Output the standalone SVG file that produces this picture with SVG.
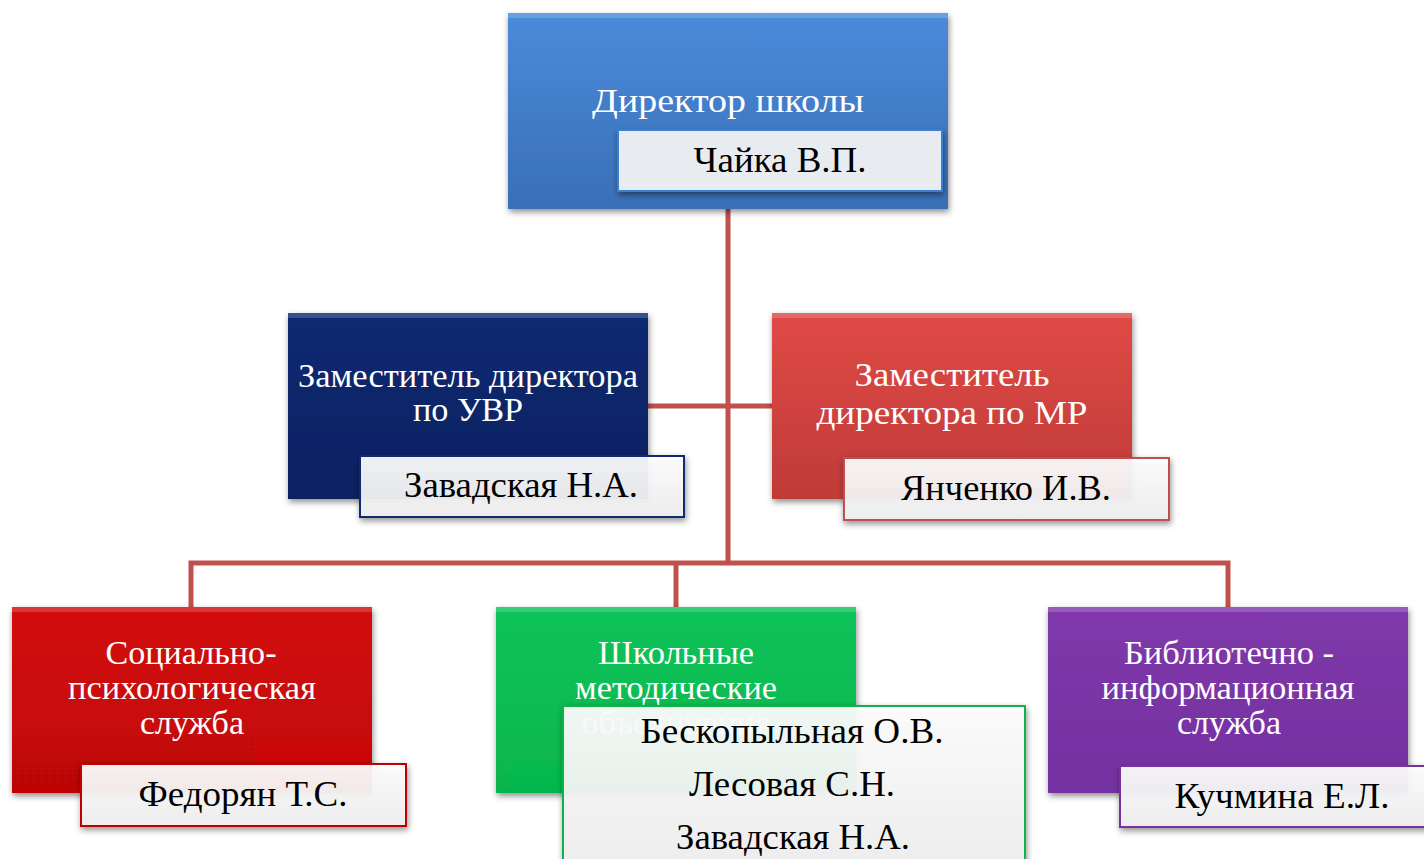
<svg xmlns="http://www.w3.org/2000/svg" width="1424" height="859" viewBox="0 0 1424 859">
<defs>
<filter id="sh" x="-10%" y="-10%" width="120%" height="130%">
<feDropShadow dx="1" dy="3" stdDeviation="3" flood-color="#000" flood-opacity="0.45"/>
</filter>
<linearGradient id="gTop" x1="0" y1="0" x2="0" y2="1"><stop offset="0" stop-color="#4a8bdb"/><stop offset="1" stop-color="#3a6fb6"/></linearGradient>
<linearGradient id="gNavy" x1="0" y1="0" x2="0" y2="1"><stop offset="0" stop-color="#0b2a72"/><stop offset="1" stop-color="#072161"/></linearGradient>
<linearGradient id="gRed1" x1="0" y1="0" x2="0" y2="1"><stop offset="0" stop-color="#e04a46"/><stop offset="1" stop-color="#bf3b38"/></linearGradient>
<linearGradient id="gRed2" x1="0" y1="0" x2="0" y2="1"><stop offset="0" stop-color="#d20909"/><stop offset="1" stop-color="#c10606"/></linearGradient>
<linearGradient id="gGreen" x1="0" y1="0" x2="0" y2="1"><stop offset="0" stop-color="#0cc35a"/><stop offset="1" stop-color="#06b64c"/></linearGradient>
<linearGradient id="gPurple" x1="0" y1="0" x2="0" y2="1"><stop offset="0" stop-color="#8039aa"/><stop offset="1" stop-color="#7430a0"/></linearGradient>
<linearGradient id="gLab" x1="0" y1="0" x2="0" y2="1"><stop offset="0" stop-color="#ffffff" stop-opacity="0.92"/><stop offset="1" stop-color="#f0f0f0" stop-opacity="0.92"/></linearGradient>
</defs>
<style>
.box{filter:url(#sh)}
.bev{fill:#ffffff;opacity:0.18}
.ttl{font-family:"Liberation Serif","Times New Roman",serif;font-size:34px;fill:#ffffff;text-anchor:middle}
.nm{font-family:"Liberation Serif","Times New Roman",serif;font-size:36px;fill:#000000;text-anchor:middle}
.lab{fill:url(#gLab);stroke-width:2;filter:url(#sh)}
.con{stroke:#c0504d;stroke-width:5;fill:none}
</style>
<rect width="1424" height="859" fill="#ffffff"/>

<g id="connectors">
<path class="con" d="M728,209 V563"/>
<path class="con" d="M648,406 H772"/>
<path class="con" d="M191,607 V563 H1228 V607"/>
<path class="con" d="M676,563 V607"/>
</g>

<g id="director">
<rect class="box" x="508" y="13" width="440" height="196" fill="url(#gTop)"/>
<rect class="bev" x="508" y="13" width="440" height="5"/>
<text class="ttl" x="728" y="112" font-size="36" textLength="272" lengthAdjust="spacingAndGlyphs">Директор школы</text>
<rect x="618" y="130" width="324" height="61" fill="#e8ebf0" stroke="#3a7fd0" stroke-width="2" filter="url(#sh)"/>
<text class="nm" x="780" y="172" textLength="173" lengthAdjust="spacingAndGlyphs">Чайка В.П.</text>
</g>

<g id="deputy-uvr">
<rect class="box" x="288" y="313" width="360" height="186" fill="url(#gNavy)"/>
<rect class="bev" x="288" y="313" width="360" height="5"/>
<text class="ttl" x="468" y="387" font-size="36" textLength="340" lengthAdjust="spacingAndGlyphs">Заместитель директора</text>
<text class="ttl" x="468" y="421" font-size="36" textLength="110" lengthAdjust="spacingAndGlyphs">по УВР</text>
<rect class="lab" x="360" y="456" width="324" height="61" stroke="#0b2a72"/>
<text class="nm" x="521" y="497" font-size="37" textLength="234" lengthAdjust="spacingAndGlyphs">Завадская Н.А.</text>
</g>

<g id="deputy-mr">
<rect class="box" x="772" y="313" width="360" height="186" fill="url(#gRed1)"/>
<rect class="bev" x="772" y="313" width="360" height="5"/>
<text class="ttl" x="952" y="386" font-size="36" textLength="195" lengthAdjust="spacingAndGlyphs">Заместитель</text>
<text class="ttl" x="952" y="424" font-size="36" textLength="271" lengthAdjust="spacingAndGlyphs">директора по МР</text>
<rect class="lab" x="844" y="458" width="325" height="62" stroke="#c0504d"/>
<text class="nm" x="1006" y="500" font-size="37" textLength="210" lengthAdjust="spacingAndGlyphs">Янченко И.В.</text>
</g>

<g id="social">
<rect class="box" x="12" y="607" width="360" height="186" fill="url(#gRed2)"/>
<rect class="bev" x="12" y="607" width="360" height="5"/>
<text class="ttl" x="191" y="664" textLength="171" lengthAdjust="spacingAndGlyphs">Социально-</text>
<text class="ttl" x="192" y="699" textLength="248" lengthAdjust="spacingAndGlyphs">психологическая</text>
<text class="ttl" x="192" y="734" textLength="104" lengthAdjust="spacingAndGlyphs">служба</text>
<rect class="lab" x="81" y="764" width="325" height="62" stroke="#c00000"/>
<text class="nm" x="243" y="806" textLength="209" lengthAdjust="spacingAndGlyphs">Федорян Т.С.</text>
</g>

<g id="methodical">
<rect class="box" x="496" y="607" width="360" height="186" fill="url(#gGreen)"/>
<rect class="bev" x="496" y="607" width="360" height="5"/>
<text class="ttl" x="676" y="664" textLength="156" lengthAdjust="spacingAndGlyphs">Школьные</text>
<text class="ttl" x="676" y="699" textLength="202" lengthAdjust="spacingAndGlyphs">методические</text>
<text class="ttl" x="676" y="734" textLength="190" lengthAdjust="spacingAndGlyphs">объединения</text>
<rect class="lab" x="563" y="706" width="462" height="160" stroke="#08b44c"/>
<text class="nm" x="792" y="743" textLength="303" lengthAdjust="spacingAndGlyphs">Бескопыльная О.В.</text>
<text class="nm" x="792" y="796" textLength="206" lengthAdjust="spacingAndGlyphs">Лесовая С.Н.</text>
<text class="nm" x="793" y="849" textLength="234" lengthAdjust="spacingAndGlyphs">Завадская Н.А.</text>
</g>

<g id="library">
<rect class="box" x="1048" y="607" width="360" height="186" fill="url(#gPurple)"/>
<rect class="bev" x="1048" y="607" width="360" height="5"/>
<text class="ttl" x="1229" y="664" textLength="210" lengthAdjust="spacingAndGlyphs">Библиотечно -</text>
<text class="ttl" x="1228" y="699" textLength="253" lengthAdjust="spacingAndGlyphs">информационная</text>
<text class="ttl" x="1229" y="734" textLength="104" lengthAdjust="spacingAndGlyphs">служба</text>
<rect class="lab" x="1120" y="766" width="310" height="61" stroke="#7430a0"/>
<text class="nm" x="1282" y="808" textLength="215" lengthAdjust="spacingAndGlyphs">Кучмина Е.Л.</text>
</g>
</svg>
